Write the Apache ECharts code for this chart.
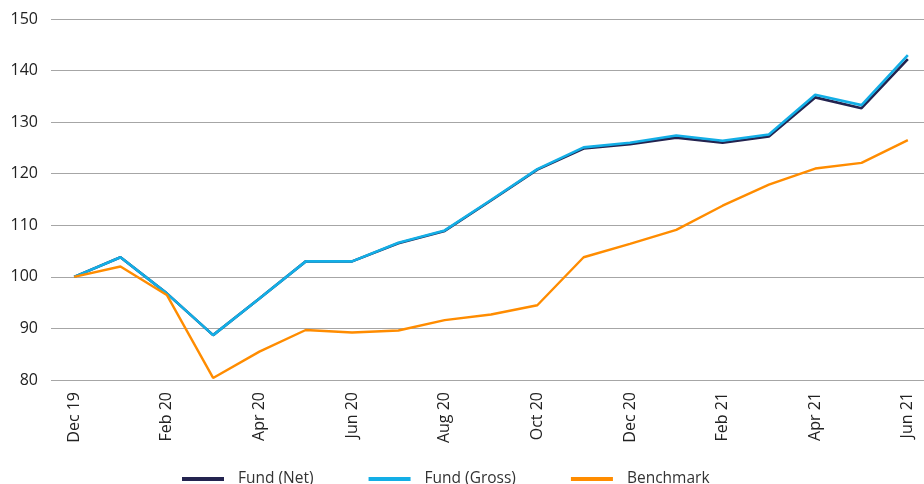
<!DOCTYPE html>
<html>
<head>
<meta charset="utf-8">
<script src="https://cdn.jsdelivr.net/npm/echarts@6/dist/echarts.min.js"></script>
<style>
html, body { margin: 0; padding: 0; background: #fff; }
#chart { width: 924px; height: 484px; }
</style>
</head>
<body>
<div id="chart"></div>
<script>
var months = ["Dec 19", "Jan 20", "Feb 20", "Mar 20", "Apr 20", "May 20", "Jun 20", "Jul 20", "Aug 20", "Sep 20",
  "Oct 20", "Nov 20", "Dec 20", "Jan 21", "Feb 21", "Mar 21", "Apr 21", "May 21", "Jun 21"];
var fundNet = [100, 103.8, 96.8, 88.7, 95.8, 103.0, 103.0, 106.5, 108.9, 114.8,
  120.8, 124.9, 125.7, 127.0, 126.0, 127.2, 134.8, 132.7, 142.2];
var fundGross = [100, 103.8, 96.8, 88.7, 95.8, 103.0, 103.0, 106.6, 109.0, 114.9,
  120.9, 125.1, 126.0, 127.4, 126.4, 127.6, 135.3, 133.3, 143.0];
var benchmark = [100, 102.0, 96.5, 80.4, 85.5, 89.7, 89.2, 89.6, 91.6, 92.7,
  94.5, 103.8, 106.4, 109.1, 113.8, 117.9, 121.0, 122.1, 126.5];

var myChart = echarts.init(document.getElementById("chart"));
var font = "'Open Sans', 'Noto Sans', sans-serif";
var option = {
  backgroundColor: "#fff",
  animation: false,
  // plot runs past the right edge a little, like the cropped original
  grid: { left: 51, width: 880, top: 19, bottom: 104, outerBoundsMode: "none" },
  legend: {
    top: 466,
    left: 177,
    itemWidth: 42,
    itemHeight: 4,
    itemGap: 55,
    icon: "rect",
    textStyle: { fontFamily: font, fontSize: 15.5, color: "#333", padding: [0, 0, 0, 9] },
    data: ["Fund (Net)", "Fund (Gross)", "Benchmark"]
  },
  xAxis: {
    type: "category",
    boundaryGap: true,
    data: months,
    axisLine: { show: false },
    axisTick: { show: false },
    axisLabel: {
      interval: 1,
      rotate: 90,
      margin: 12,
      fontFamily: font,
      fontSize: 16,
      color: "#222"
    }
  },
  yAxis: {
    type: "value",
    min: 80,
    max: 150,
    interval: 10,
    axisLine: { show: false },
    axisTick: { show: false },
    splitLine: { lineStyle: { color: "#a6a6a6", width: 1.2 } },
    axisLabel: { fontFamily: font, fontSize: 16, color: "#222", margin: 13 }
  },
  series: [
    {
      name: "Fund (Net)",
      type: "line",
      data: fundNet,
      symbol: "none",
      color: "#23234f",
      lineStyle: { width: 2.6, color: "#23234f" }
    },
    {
      name: "Fund (Gross)",
      type: "line",
      data: fundGross,
      symbol: "none",
      color: "#13aee6",
      lineStyle: { width: 2.6, color: "#13aee6" }
    },
    {
      name: "Benchmark",
      type: "line",
      data: benchmark,
      symbol: "none",
      color: "#ff8c00",
      lineStyle: { width: 2.4, color: "#ff8c00" }
    }
  ]
};
myChart.setOption(option);
</script>
</body>
</html>
